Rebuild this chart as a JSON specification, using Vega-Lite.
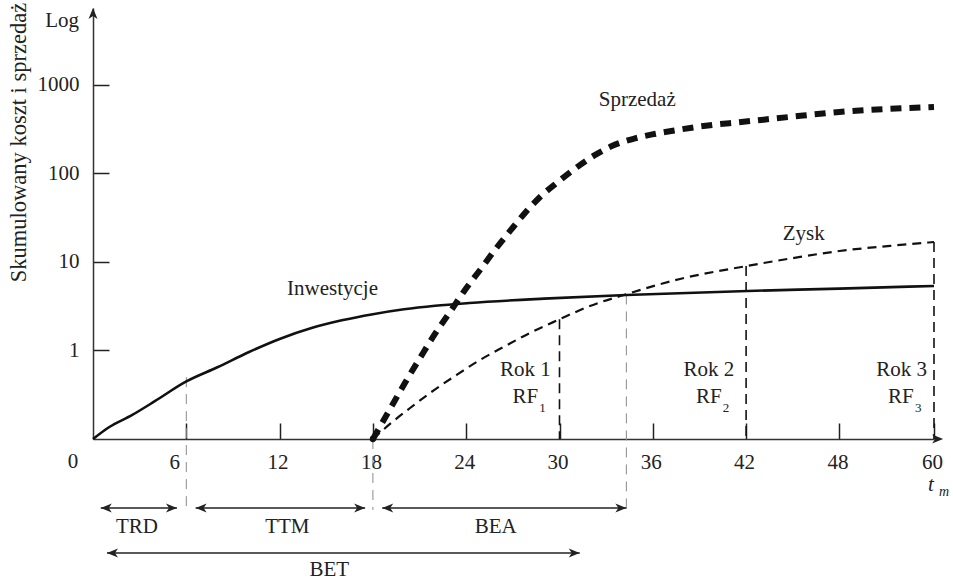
{
  "$schema": "https://vega.github.io/schema/vega-lite/v6.json",
  "width": 850,
  "height": 431,
  "autosize": {"type": "none"},
  "padding": {"left": 93, "top": 8, "right": 10, "bottom": 143},
  "background": "white",
  "config": {
    "view": {"stroke": null},
    "font": "Liberation Serif",
    "text": {"font": "Liberation Serif", "fontSize": 21, "color": "#222"}
  },
  "datasets": {
    "curves": [
      {"series": "Inwestycje", "t": 0, "v": 0.1},
      {"series": "Inwestycje", "t": 1, "v": 0.135},
      {"series": "Inwestycje", "t": 2.5, "v": 0.186},
      {"series": "Inwestycje", "t": 4, "v": 0.269},
      {"series": "Inwestycje", "t": 6, "v": 0.447},
      {"series": "Inwestycje", "t": 8, "v": 0.646},
      {"series": "Inwestycje", "t": 10, "v": 0.955},
      {"series": "Inwestycje", "t": 12, "v": 1.35},
      {"series": "Inwestycje", "t": 14, "v": 1.78},
      {"series": "Inwestycje", "t": 16, "v": 2.19},
      {"series": "Inwestycje", "t": 18, "v": 2.57},
      {"series": "Inwestycje", "t": 20, "v": 2.92},
      {"series": "Inwestycje", "t": 22, "v": 3.2},
      {"series": "Inwestycje", "t": 24.2, "v": 3.44},
      {"series": "Inwestycje", "t": 29, "v": 3.85},
      {"series": "Inwestycje", "t": 34.3, "v": 4.24},
      {"series": "Inwestycje", "t": 42.1, "v": 4.7},
      {"series": "Inwestycje", "t": 48, "v": 5.0},
      {"series": "Inwestycje", "t": 60, "v": 5.36},
      {"series": "Zysk", "t": 18, "v": 0.1},
      {"series": "Zysk", "t": 19.1, "v": 0.148},
      {"series": "Zysk", "t": 20.39, "v": 0.224},
      {"series": "Zysk", "t": 21.67, "v": 0.331},
      {"series": "Zysk", "t": 23.28, "v": 0.515},
      {"series": "Zysk", "t": 24.89, "v": 0.782},
      {"series": "Zysk", "t": 26.5, "v": 1.12},
      {"series": "Zysk", "t": 28.1, "v": 1.58},
      {"series": "Zysk", "t": 29.9, "v": 2.21},
      {"series": "Zysk", "t": 31.96, "v": 3.18},
      {"series": "Zysk", "t": 34.34, "v": 4.35},
      {"series": "Zysk", "t": 37.75, "v": 6.43},
      {"series": "Zysk", "t": 42.06, "v": 9.01},
      {"series": "Zysk", "t": 45.47, "v": 11.4},
      {"series": "Zysk", "t": 48, "v": 13.3},
      {"series": "Zysk", "t": 54.45, "v": 15.2},
      {"series": "Zysk", "t": 60, "v": 16.8},
      {"series": "Sprzedaż", "t": 18, "v": 0.1},
      {"series": "Sprzedaż", "t": 19.1, "v": 0.218},
      {"series": "Sprzedaż", "t": 20.06, "v": 0.43},
      {"series": "Sprzedaż", "t": 21.03, "v": 0.822},
      {"series": "Sprzedaż", "t": 21.99, "v": 1.54},
      {"series": "Sprzedaż", "t": 22.96, "v": 2.72},
      {"series": "Sprzedaż", "t": 23.92, "v": 4.83},
      {"series": "Sprzedaż", "t": 24.89, "v": 8.12},
      {"series": "Sprzedaż", "t": 25.85, "v": 13.7},
      {"series": "Sprzedaż", "t": 26.82, "v": 22.4},
      {"series": "Sprzedaż", "t": 27.78, "v": 35.8},
      {"series": "Sprzedaż", "t": 28.75, "v": 54.2},
      {"series": "Sprzedaż", "t": 29.9, "v": 80.2},
      {"series": "Sprzedaż", "t": 31.13, "v": 118},
      {"series": "Sprzedaż", "t": 32.3, "v": 162},
      {"series": "Sprzedaż", "t": 33.4, "v": 205},
      {"series": "Sprzedaż", "t": 34.7, "v": 245},
      {"series": "Sprzedaż", "t": 36.1, "v": 279},
      {"series": "Sprzedaż", "t": 37.6, "v": 310},
      {"series": "Sprzedaż", "t": 38.8, "v": 335},
      {"series": "Sprzedaż", "t": 40.1, "v": 358},
      {"series": "Sprzedaż", "t": 41.4, "v": 377},
      {"series": "Sprzedaż", "t": 44.8, "v": 435},
      {"series": "Sprzedaż", "t": 48, "v": 495},
      {"series": "Sprzedaż", "t": 60, "v": 564}
    ],
    "guides": [
      {"kind": "gray", "t": 6, "v": 0.5, "v2": 0.0158},
      {"kind": "gray", "t": 18, "v": 0.1, "v2": 0.0158},
      {"kind": "gray", "t": 34.3, "v": 4.3, "v2": 0.0158},
      {"kind": "rok", "t": 30, "v": 2.25, "v2": 0.1},
      {"kind": "rok", "t": 42, "v": 9.0, "v2": 0.1},
      {"kind": "rok", "t": 60, "v": 16.8, "v2": 0.1}
    ],
    "spans": [
      {"span": "TRD", "t": 0.5, "t2": 5.4, "v": 0.0166},
      {"span": "TTM", "t": 6.6, "t2": 17.5, "v": 0.0166},
      {"span": "BEA", "t": 18.6, "t2": 34.3, "v": 0.0166},
      {"span": "BET", "t": 0.9, "t2": 31.3, "v": 0.00515}
    ],
    "heads": [
      {"dir": "right", "t": 5.4, "v": 0.0166},
      {"dir": "left", "t": 0.5, "v": 0.0166},
      {"dir": "right", "t": 17.5, "v": 0.0166},
      {"dir": "left", "t": 6.6, "v": 0.0166},
      {"dir": "right", "t": 34.3, "v": 0.0166},
      {"dir": "left", "t": 18.6, "v": 0.0166},
      {"dir": "right", "t": 31.3, "v": 0.00515},
      {"dir": "left", "t": 0.9, "v": 0.00515},
      {"dir": "right", "t": 61.16, "v": 0.1},
      {"dir": "up", "t": 0, "v": 7400}
    ],
    "labels": [
      {"text": "Inwestycje", "t": 15.4, "v": 4.95},
      {"text": "Sprzedaż", "t": 35.0, "v": 678},
      {"text": "Zysk", "t": 45.7, "v": 20.7},
      {"text": "Rok 1", "t": 27.8, "v": 0.603},
      {"text": "Rok 2", "t": 39.6, "v": 0.603},
      {"text": "Rok 3", "t": 55.9, "v": 0.603},
      {"text": "RF", "t": 27.8, "v": 0.298},
      {"text": "RF", "t": 39.6, "v": 0.298},
      {"text": "RF", "t": 55.8, "v": 0.298},
      {"text": "TRD", "t": 2.83, "v": 0.0101},
      {"text": "TTM", "t": 12.5, "v": 0.0101},
      {"text": "BEA", "t": 25.9, "v": 0.0101},
      {"text": "BET", "t": 15.2, "v": 0.00331}
    ],
    "subs": [
      {"text": "1", "t": 27.8, "v": 0.298},
      {"text": "2", "t": 39.6, "v": 0.298},
      {"text": "3", "t": 55.8, "v": 0.298}
    ],
    "origin": [{"t": 18, "v": 0.1}],
    "corner": [
      {"text": "Log", "t": 0, "v": 5280},
      {"text": "0", "t": 0, "v": 0.1}
    ],
    "tm": [{"t": 60, "v": 0.1}]
  },
  "encoding": {
    "x": {
      "field": "t", "type": "quantitative",
      "scale": {"domain": [0, 48, 60], "range": [0, 746.4, 841], "nice": false, "zero": false},
      "axis": {
        "values": [6, 12, 18, 24, 30, 36, 42, 48, 60],
        "title": null, "grid": false,
        "tickSize": -16, "tickWidth": 1.5, "tickColor": "#222",
        "domainColor": "#333", "domainWidth": 1.5,
        "labelFont": "Liberation Serif", "labelFontSize": 21, "labelColor": "#222",
        "labelPadding": 28, "labelFlush": false, "labelOverlap": false,
        "labelOffset": {"condition": {"test": "datum.value === 6", "value": -12}, "value": -2}
      }
    },
    "y": {
      "field": "v", "type": "quantitative",
      "scale": {"type": "log", "domain": [0.1, 7400], "nice": false},
      "axis": {
        "values": [1, 10, 100, 1000], "format": "d",
        "grid": false,
        "tickSize": -16, "tickWidth": 1.5, "tickColor": "#222",
        "domainColor": "#333", "domainWidth": 1.5,
        "labelFont": "Liberation Serif", "labelFontSize": 21, "labelColor": "#222",
        "labelPadding": 30, "labelFlush": false, "labelOverlap": false,
        "title": "Skumulowany koszt i sprzedaż",
        "titleFont": "Liberation Serif", "titleFontSize": 22.5, "titleFontWeight": "normal",
        "titleColor": "#222", "titleX": -75, "titleY": 134, "titleAngle": -90,
        "titleAlign": "center", "titleBaseline": "middle"
      }
    }
  },
  "layer": [
    {
      "data": {"name": "guides"},
      "transform": [{"filter": "datum.kind === 'gray'"}],
      "mark": {"type": "rule", "color": "#8a8a8a", "strokeWidth": 1, "strokeDash": [10, 7]},
      "encoding": {"y2": {"field": "v2"}}
    },
    {
      "data": {"name": "guides"},
      "transform": [{"filter": "datum.kind === 'rok'"}],
      "mark": {"type": "rule", "color": "#111", "strokeWidth": 1.6, "strokeDash": [10, 6]},
      "encoding": {"y2": {"field": "v2"}}
    },
    {
      "data": {"name": "curves"},
      "transform": [{"filter": "datum.series === 'Inwestycje'"}],
      "mark": {"type": "line", "color": "#111", "strokeWidth": 2.6, "interpolate": "monotone"},
      "encoding": {"order": {"field": "t", "type": "quantitative"}}
    },
    {
      "data": {"name": "curves"},
      "transform": [{"filter": "datum.series === 'Zysk'"}],
      "mark": {"type": "line", "color": "#111", "strokeWidth": 2.2, "strokeDash": [9, 6], "interpolate": "monotone"},
      "encoding": {"order": {"field": "t", "type": "quantitative"}}
    },
    {
      "data": {"name": "curves"},
      "transform": [{"filter": "datum.series === 'Sprzedaż'"}],
      "mark": {"type": "line", "color": "#111", "strokeWidth": 6, "strokeDash": [11, 8], "interpolate": "monotone"},
      "encoding": {"order": {"field": "t", "type": "quantitative"}}
    },
    {
      "data": {"name": "spans"},
      "mark": {"type": "rule", "color": "#222", "strokeWidth": 1.6},
      "encoding": {"x2": {"field": "t2"}}
    },
    {
      "data": {"name": "heads"},
      "transform": [{"filter": "datum.dir === 'right'"}],
      "mark": {"type": "point", "filled": true, "color": "#222", "opacity": 1, "size": 100, "angle": 0, "shape": "M0,0L-2.2,-0.9L-1.6,0L-2.2,0.9Z"}
    },
    {
      "data": {"name": "heads"},
      "transform": [{"filter": "datum.dir === 'left'"}],
      "mark": {"type": "point", "filled": true, "color": "#222", "opacity": 1, "size": 100, "angle": 180, "shape": "M0,0L-2.2,-0.9L-1.6,0L-2.2,0.9Z"}
    },
    {
      "data": {"name": "heads"},
      "transform": [{"filter": "datum.dir === 'up'"}],
      "mark": {"type": "point", "filled": true, "color": "#222", "opacity": 1, "size": 100, "angle": 270, "shape": "M0,0L-2.2,-0.9L-1.6,0L-2.2,0.9Z"}
    },
    {
      "data": {"name": "origin"},
      "mark": {"type": "point", "filled": true, "color": "#111", "opacity": 1, "size": 40, "shape": "circle"}
    },
    {
      "data": {"name": "labels"},
      "mark": {"type": "text", "align": "center", "baseline": "middle", "color": "#222"},
      "encoding": {"text": {"field": "text"}}
    },
    {
      "data": {"name": "subs"},
      "mark": {"type": "text", "align": "left", "baseline": "middle", "fontSize": 13, "dx": 14, "dy": 11, "color": "#222"},
      "encoding": {"text": {"field": "text"}}
    },
    {
      "data": {"name": "corner"},
      "transform": [{"filter": "datum.text === 'Log'"}],
      "mark": {"type": "text", "align": "right", "baseline": "middle", "dx": -14, "color": "#222"},
      "encoding": {"text": {"field": "text"}}
    },
    {
      "data": {"name": "corner"},
      "transform": [{"filter": "datum.text === '0'"}],
      "mark": {"type": "text", "align": "center", "baseline": "middle", "dx": -20, "dy": 23, "color": "#222"},
      "encoding": {"text": {"field": "text"}}
    },
    {
      "data": {"name": "tm"},
      "mark": {"type": "text", "align": "center", "baseline": "middle", "fontStyle": "italic", "dx": -3, "dy": 46, "text": "t", "color": "#222"}
    },
    {
      "data": {"name": "tm"},
      "mark": {"type": "text", "align": "center", "baseline": "middle", "fontStyle": "italic", "fontSize": 14, "dx": 10, "dy": 53, "text": "m", "color": "#222"}
    }
  ]
}
